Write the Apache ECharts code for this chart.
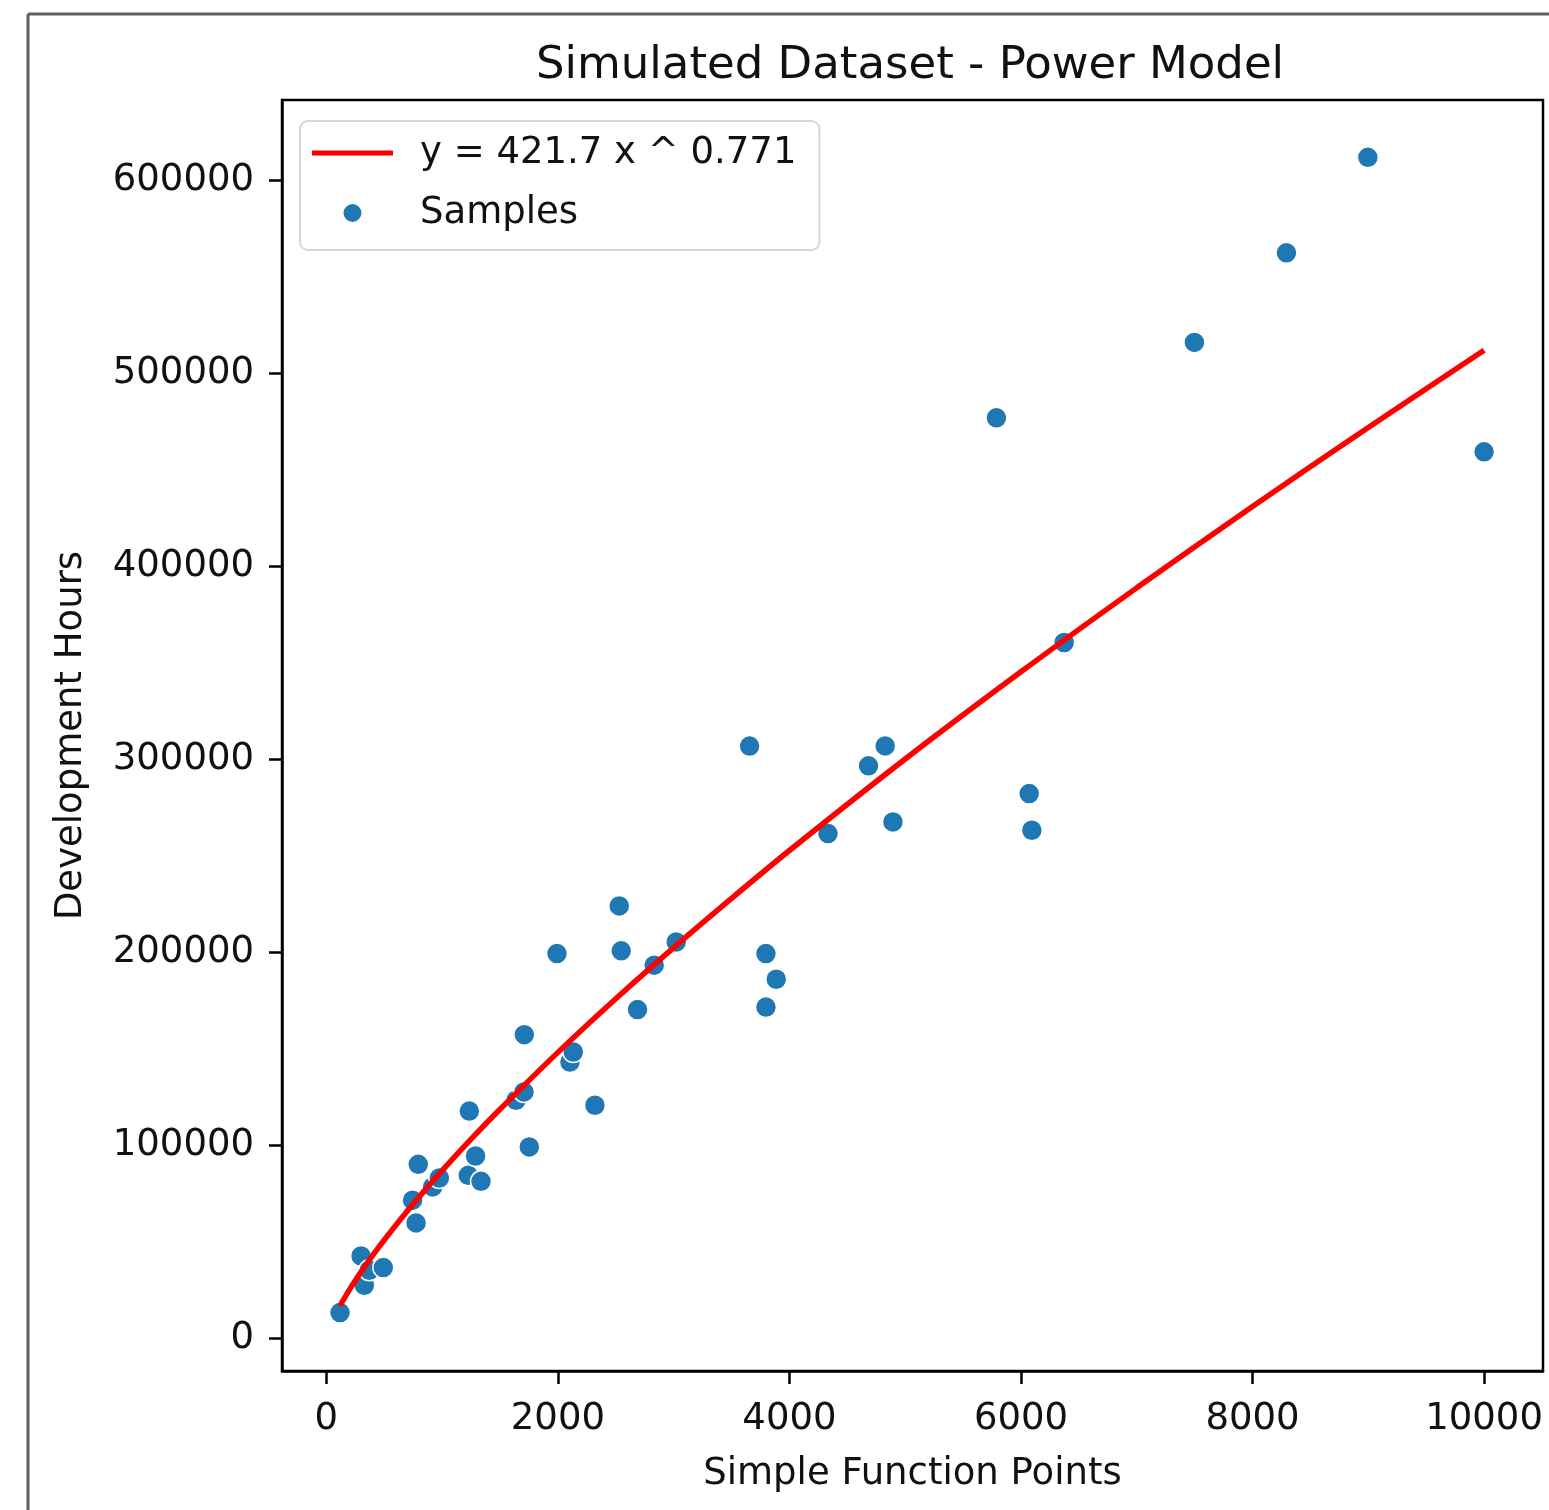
<!DOCTYPE html>
<html>
<head>
<meta charset="utf-8">
<script src="https://cdn.jsdelivr.net/npm/echarts@6/dist/echarts.min.js"></script>
<style>
  html, body { margin: 0; padding: 0; background: #fff; }
  #chart { width: 1549px; height: 1510px; }
</style>
</head>
<body>
<div id="chart"></div>
<script>
// Samples (Simple Function Points, Development Hours)
const sampleX = [118, 300, 328, 371, 492, 745, 775, 794, 918, 976, 1226, 1235, 1289, 1336, 1638, 1707, 1710, 1753, 1992, 2104, 2133, 2320, 2530, 2547, 2688, 2832, 3022, 3656, 3797, 3797, 3886, 4333, 4683, 4827, 4894, 5788, 6071, 6094, 6373, 7498, 8293, 8996, 10000];
const sampleY = [13200, 42500, 27300, 35100, 36500, 71400, 59600, 90000, 78300, 82900, 84300, 117600, 94300, 81200, 123200, 127500, 157200, 99000, 199200, 143000, 148200, 120600, 223900, 200600, 170200, 193200, 205200, 306700, 199200, 171500, 185900, 261400, 296500, 306800, 267400, 476800, 282100, 263100, 360400, 515900, 562300, 611800, 459200];

// Fitted power-model curve
const lineX = [118, 200, 300, 400, 500, 650, 800, 1000, 1250, 1500, 2000, 2500, 3000, 3500, 4000, 5000, 6000, 7000, 8000, 9000, 10000];
const lineY = [16690, 25070, 34270, 42780, 50800, 62200, 73000, 86700, 103000, 118500, 148000, 175800, 202300, 227800, 252600, 300000, 345200, 388700, 430900, 471800, 511800];

const xTicks = [0, 2000, 4000, 6000, 8000, 10000];
const yTicks = [0, 100000, 200000, 300000, 400000, 500000, 600000];

const titleText = 'Simulated Dataset - Power Model';
const xName = 'Simple Function Points';
const yName = 'Development Hours';
const lineName = 'y = 421.7 x ^ 0.771';
const scatterName = 'Samples';

const FONT = 'DejaVu Sans';
const chart = echarts.init(document.getElementById('chart'), null, { renderer: 'canvas' });

const samples = sampleX.map((x, i) => [x, sampleY[i]]);
const curve = lineX.map((x, i) => [x, lineY[i]]);

const axisLineStyle = { show: true, onZero: false, lineStyle: { color: '#000', width: 2.5 } };

const option = {
  backgroundColor: '#fff',
  animation: false,
  title: {
    text: titleText,
    left: 905,
    textAlign: 'center',
    top: 39,
    textStyle: { fontFamily: FONT, fontSize: 45, fontWeight: 'normal', color: '#111' }
  },
  grid: {
    left: 282, right: 6, top: 100, bottom: 139,
    show: true, borderColor: '#000', borderWidth: 2.5, backgroundColor: '#fff'
  },
  legend: {
    left: 300, top: 121,
    orient: 'vertical',
    data: [
      { name: lineName, icon: 'path://M0,0H100V6.2H0Z' },
      { name: scatterName, icon: 'circle' }
    ],
    symbolKeepAspect: true,
    itemWidth: 81, itemHeight: 20,
    itemGap: 16,
    padding: [10, 23, 15, 12],
    borderColor: '#d6d6d6', borderWidth: 2, borderRadius: 8,
    backgroundColor: 'rgba(255,255,255,0.8)',
    textStyle: { fontFamily: FONT, fontSize: 37, color: '#111', padding: [0, 0, 0, 22], lineHeight: 44 }
  },
  xAxis: {
    type: 'value',
    min: -383, max: 10509,
    name: xName, nameLocation: 'middle', nameGap: 85,
    nameTextStyle: { fontFamily: FONT, fontSize: 37, color: '#111' },
    axisLine: axisLineStyle,
    splitLine: { show: false },
    axisTick: { show: true, length: 13, lineStyle: { color: '#000', width: 2.5 }, customValues: xTicks },
    axisLabel: { customValues: xTicks, margin: 30, fontFamily: FONT, fontSize: 37, color: '#111', formatter: v => String(v) }
  },
  yAxis: {
    type: 'value',
    min: -17100, max: 641500,
    name: yName, nameLocation: 'middle', nameGap: 192,
    nameTextStyle: { fontFamily: FONT, fontSize: 37, color: '#111' },
    axisLine: axisLineStyle,
    splitLine: { show: false },
    axisTick: { show: true, length: 13, lineStyle: { color: '#000', width: 2.5 }, customValues: yTicks },
    axisLabel: { customValues: yTicks, margin: 28, fontFamily: FONT, fontSize: 37, color: '#111', formatter: v => String(v) }
  },
  graphic: [
    { type: 'line', shape: { x1: 28, y1: 14, x2: 1549, y2: 14 }, style: { stroke: '#5f5f5f', lineWidth: 3 }, silent: true },
    { type: 'line', shape: { x1: 28, y1: 14, x2: 28, y2: 1510 }, style: { stroke: '#5f5f5f', lineWidth: 3 }, silent: true }
  ],
  series: [
    {
      name: scatterName,
      type: 'scatter',
      data: samples,
      symbol: 'circle',
      symbolSize: 21,
      itemStyle: { color: '#1f77b4', borderColor: '#fff', borderWidth: 1.5, opacity: 1 },
      z: 2
    },
    {
      name: lineName,
      type: 'line',
      data: curve,
      symbol: 'none',
      smooth: 0.3,
      lineStyle: { color: '#ff0000', width: 5.5 },
      itemStyle: { color: '#ff0000' },
      z: 3
    }
  ]
};
chart.setOption(option);
</script>
</body>
</html>
